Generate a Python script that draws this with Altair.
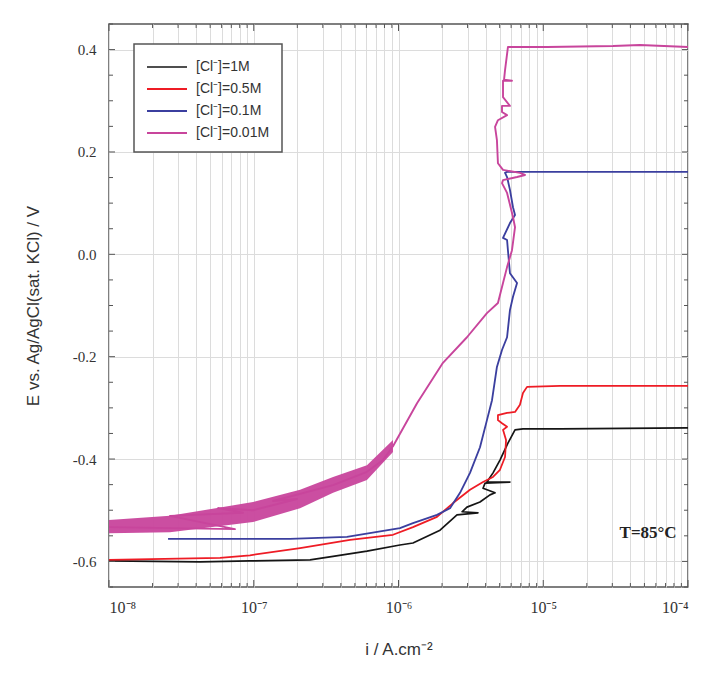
import altair as alt
import pandas as pd

# ---------------- data (log10 of current density, potential in V) ----------------
series = ["[Cl⁻]=1M", "[Cl⁻]=0.5M", "[Cl⁻]=0.1M", "[Cl⁻]=0.01M"]
colors = ["#151515", "#ee1c25", "#3b3f9f", "#c8459c"]
widths = [1.7, 1.9, 2.0, 1.9]

black_logi = [-8.000, -7.371, -7.026, -6.611, -6.452, -6.218, -5.990, -5.900, -5.713, -5.596,
              -5.451, -5.561, -5.527, -5.437, -5.368, -5.333, -5.416, -5.402, -5.230, -5.389,
              -5.347, -5.299, -5.244, -5.195, -5.140, -4.884, -4.000]
black_E = [-0.599, -0.601, -0.599, -0.597, -0.590, -0.580, -0.568, -0.564, -0.539, -0.509,
           -0.505, -0.503, -0.494, -0.484, -0.470, -0.466, -0.457, -0.447, -0.445, -0.445,
           -0.427, -0.402, -0.369, -0.343, -0.341, -0.341, -0.339]

red_logi = [-8.000, -7.233, -7.026, -6.680, -6.335, -6.038, -5.900, -5.734, -5.623, -5.506,
            -5.416, -5.347, -5.299, -5.264, -5.257, -5.278, -5.250, -5.285, -5.313, -5.313,
            -5.250, -5.195, -5.161, -5.140, -5.112, -4.884, -4.000]
red_E = [-0.597, -0.593, -0.588, -0.574, -0.558, -0.548, -0.533, -0.513, -0.486, -0.460,
         -0.445, -0.435, -0.421, -0.396, -0.363, -0.343, -0.337, -0.330, -0.324, -0.314,
         -0.310, -0.308, -0.294, -0.271, -0.259, -0.257, -0.257]

blue_logi = [-7.592, -6.750, -6.356, -5.990, -5.900, -5.734, -5.644, -5.575, -5.506, -5.437,
             -5.389, -5.354, -5.320, -5.285, -5.250, -5.230, -5.209, -5.181, -5.230, -5.244,
             -5.250, -5.278, -5.230, -5.195, -5.209, -5.230, -5.250, -5.264, -5.250, -4.000]
blue_E = [-0.556, -0.556, -0.552, -0.535, -0.525, -0.509, -0.496, -0.466, -0.427, -0.377,
          -0.324, -0.285, -0.220, -0.187, -0.162, -0.109, -0.083, -0.056, -0.037, 0.008,
          0.028, 0.032, 0.061, 0.077, 0.092, 0.126, 0.151, 0.159, 0.161, 0.161]

pink_logi = [-8.000, -7.130, -7.579, -7.074, -7.247, -7.005, -6.701, -6.867, -6.452, -6.218,
             -6.107, -6.038, -5.872, -5.693, -5.527, -5.389, -5.313, -5.278, -5.250, -5.216,
             -5.195, -5.209, -5.250, -5.285, -5.278, -5.181, -5.126, -5.161, -5.278, -5.313,
             -5.320, -5.333, -5.313, -5.250, -5.285, -5.285, -5.230, -5.278, -5.278, -5.216,
             -5.271, -5.264, -5.244, -4.974, -4.518, -4.332, -4.000]
pink_E = [-0.533, -0.537, -0.511, -0.505, -0.496, -0.500, -0.478, -0.482, -0.451, -0.425,
          -0.402, -0.375, -0.291, -0.212, -0.162, -0.115, -0.095, -0.056, -0.025, 0.008,
          0.053, 0.073, 0.120, 0.139, 0.145, 0.151, 0.155, 0.159, 0.165, 0.178,
          0.223, 0.249, 0.262, 0.272, 0.278, 0.290, 0.290, 0.307, 0.339, 0.339,
          0.341, 0.360, 0.405, 0.405, 0.407, 0.409, 0.405]

# noisy band of the 0.01M curve at low potentials
band_logi = [-8.000, -7.579, -7.005, -6.680, -6.452, -6.218, -6.038]
band_E_low = [-0.545, -0.543, -0.523, -0.496, -0.466, -0.441, -0.386]
band_E_high = [-0.519, -0.511, -0.484, -0.460, -0.435, -0.412, -0.363]

x_major = [1e-8, 1e-7, 1e-6, 1e-5, 1e-4]
x_labels = ["10⁻⁸", "10⁻⁷", "10⁻⁶", "10⁻⁵", "10⁻⁴"]
x_minor = [k * m for m in x_major[:-1] for k in range(2, 10)]
y_major = [-0.6, -0.4, -0.2, 0.0, 0.2, 0.4]
y_minor = [-0.65, -0.55, -0.5, -0.45, -0.35, -0.3, -0.25, -0.15, -0.1, -0.05,
           0.05, 0.1, 0.15, 0.25, 0.3, 0.35, 0.45]

annot_i = [5.3e-5]
annot_E = [-0.545]
annot_text = ["T=85°C"]

# ---------------- tables ----------------
rows = []
for s, li, ee in zip(series, [black_logi, red_logi, blue_logi, pink_logi],
                     [black_E, red_E, blue_E, pink_E]):
    for k, (a, b) in enumerate(zip(li, ee)):
        rows.append({"series": s, "i": 10 ** a, "E": b, "idx": k})
df = pd.DataFrame(rows)

band = pd.DataFrame({"i": [10 ** a for a in band_logi], "lo": band_E_low, "hi": band_E_high})

W, H = 579, 563
xs = alt.Scale(type="log", domain=[1e-8, 1e-4])
ys = alt.Scale(domain=[-0.65, 0.45], nice=False, zero=False)

label_expr = ("indexof([" + ",".join(repr(v) for v in x_major) + "], datum.value) >= 0 ? ["
              + ",".join("'" + t + "'" for t in x_labels) + "][indexof(["
              + ",".join(repr(v) for v in x_major) + "], datum.value)] : ''")

x_axis = alt.Axis(values=sorted(x_major + x_minor), labelExpr=label_expr, labelOverlap=False,
                  ticks=False, domain=False, grid=True, gridColor="#dcdcdc", gridWidth=1,
                  labelFont="Liberation Serif", labelFontSize=16, labelColor="#333",
                  labelPadding=12, title="i / A.cm⁻²", titleFont="Liberation Sans",
                  titleFontSize=17, titleFontWeight="normal", titleColor="#333", titlePadding=26)
y_axis = alt.Axis(values=y_major, labelExpr="replace(format(datum.value, '.1f'), '−', '-')",
                  ticks=False, domain=False, grid=True,
                  gridColor="#dcdcdc", gridWidth=1, labelFont="Liberation Serif",
                  labelFontSize=15, labelColor="#333", labelPadding=13,
                  title="E vs. Ag/AgCl(sat. KCl) / V", titleFont="Liberation Sans",
                  titleFontSize=17, titleFontWeight="normal", titleColor="#333", titlePadding=30)

color_scale = alt.Scale(domain=series, range=colors)

base_grid = alt.Chart(pd.DataFrame({"i": [1e-6], "E": [0.0]})).mark_point(opacity=0).encode(
    x=alt.X("i:Q", scale=xs, axis=x_axis),
    y=alt.Y("E:Q", scale=ys, axis=y_axis),
)

area = alt.Chart(band).mark_area(color=colors[3], opacity=0.95, clip=True).encode(
    x=alt.X("i:Q", scale=xs), y=alt.Y("lo:Q", scale=ys), y2="hi:Q")

lines = alt.Chart(df).mark_line(clip=True, strokeJoin="round").encode(
    x=alt.X("i:Q", scale=xs),
    y=alt.Y("E:Q", scale=ys),
    color=alt.Color("series:N", scale=color_scale, sort=series,
                    legend=alt.Legend(orient="none", legendX=25, legendY=20, title=None,
                                      symbolType="M-1,0H3", symbolSize=400,
                                      symbolStrokeWidth=2, labelFont="Liberation Sans",
                                      labelFontSize=14, labelColor="#333", labelOffset=28,
                                      strokeColor="#555", padding=12, rowPadding=4,
                                      fillColor="white")),
    strokeWidth=alt.StrokeWidth("series:N", scale=alt.Scale(domain=series, range=widths),
                                legend=None),
    order=alt.Order("idx:Q"),
)

tick_color = "#555"
xmaj = pd.DataFrame({"v": x_major})
xmin = pd.DataFrame({"v": x_minor})
ymaj = pd.DataFrame({"v": y_major})
ymin = pd.DataFrame({"v": y_minor})


def xt(d, y1, y2):
    return alt.Chart(d).mark_rule(color=tick_color, strokeWidth=1).encode(
        x=alt.X("v:Q", scale=xs), y=alt.value(y1), y2=alt.value(y2))


def yt(d, x1, x2):
    return alt.Chart(d).mark_rule(color=tick_color, strokeWidth=1).encode(
        y=alt.Y("v:Q", scale=ys), x=alt.value(x1), x2=alt.value(x2))


ticks = [xt(xmaj, H, H - 7), xt(xmin, H, H - 4), xt(xmaj, 0, 7), xt(xmin, 0, 4),
         yt(ymaj, 0, 6), yt(ymin, 0, 4), yt(ymaj, W, W - 6), yt(ymin, W, W - 4)]

annot = alt.Chart(pd.DataFrame({"i": annot_i, "E": annot_E, "t": annot_text})).mark_text(
    font="Liberation Serif", fontSize=17, fontWeight="bold", color="#222").encode(
    x=alt.X("i:Q", scale=xs), y=alt.Y("E:Q", scale=ys), text="t:N")

chart = alt.layer(base_grid, area, lines, *ticks, annot).properties(
    width=W, height=H,
    autosize=alt.AutoSizeParams(type="none"),
    padding={"left": 101, "top": 16, "right": 24, "bottom": 90},
).configure_view(stroke="#555", strokeWidth=1.5).configure_legend(strokeWidth=1.5)

chart.save("out.html", embed_options={"renderer": "svg", "actions": False})
